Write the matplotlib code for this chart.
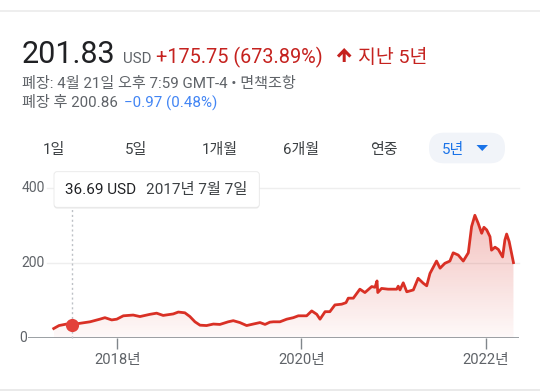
import matplotlib

matplotlib.use("Agg")
import matplotlib.dates as mdates
import matplotlib.pyplot as plt
import numpy as np
import pandas as pd
from matplotlib.colors import LinearSegmentedColormap
from matplotlib.lines import Line2D
from matplotlib.patches import FancyBboxPatch, Polygon
from matplotlib.transforms import IdentityTransform

plt.rcParams["font.family"] = ["Roboto", "Noto Sans CJK KR", "DejaVu Sans"]

W, H = 540, 392

# price history
dates = [
    "2017-04-24", "2017-05-15", "2017-06-14", "2017-07-07", "2017-08-06", "2017-09-15", "2017-10-24", "2017-11-13", "2017-12-10", "2017-12-30",
    "2018-01-25", "2018-03-05", "2018-04-01", "2018-05-11", "2018-06-06", "2018-07-02", "2018-08-11", "2018-08-31", "2018-09-26", "2018-10-16",
    "2018-11-05", "2018-11-25", "2018-12-21", "2019-01-17", "2019-02-12", "2019-03-17", "2019-04-06", "2019-05-02", "2019-05-29", "2019-06-24",
    "2019-07-21", "2019-08-10", "2019-08-29", "2019-09-12", "2019-10-08", "2019-11-04", "2019-11-30", "2019-12-20", "2020-01-22", "2020-02-11",
    "2020-03-02", "2020-03-15", "2020-04-04", "2020-04-23", "2020-05-13", "2020-06-09", "2020-06-26", "2020-07-05", "2020-07-25", "2020-08-20",
    "2020-09-09", "2020-10-06", "2020-10-19", "2020-10-27", "2020-10-30", "2020-11-14", "2020-12-10", "2021-01-13", "2021-01-19", "2021-01-26",
    "2021-02-08", "2021-02-22", "2021-03-20", "2021-04-08", "2021-04-28", "2021-05-12", "2021-05-25", "2021-06-20", "2021-07-04", "2021-07-23",
    "2021-08-12", "2021-08-25", "2021-09-14", "2021-10-04", "2021-10-24", "2021-11-06", "2021-11-19", "2021-12-02", "2021-12-16", "2021-12-25",
    "2022-01-05", "2022-01-18", "2022-01-24", "2022-02-07", "2022-02-20", "2022-03-09", "2022-03-18", "2022-03-25", "2022-04-04", "2022-04-21",
]
prices = [
    26.08, 34, 38, 36.69, 40, 44, 51, 55, 49, 51,
    60, 62, 58, 64, 67, 61, 65, 70, 68, 58,
    44, 35, 34, 38, 37, 44, 47, 42, 34, 38,
    42, 37, 43, 44, 44, 51, 55, 60, 60, 73,
    64, 51, 71, 71, 89, 91, 95, 107, 107, 131,
    122, 138, 136, 153, 122, 133, 131, 131, 139, 129,
    148, 124, 129, 160, 147, 140, 173, 206, 187, 200,
    206, 228, 222, 206, 228, 298, 328, 307, 280, 296,
    289, 271, 235, 243, 237, 217, 262, 278, 258, 201.83,
]

y_ticks = [0, 200, 400]
x_ticks = ["2018-01-01", "2020-01-01", "2022-01-01"]
x_tick_labels = ["2018년", "2020년", "2022년"]
tabs = ["1일", "5일", "1개월", "6개월", "연중", "5년"]
hover_date = "2017-07-07"
hover_price = 36.69

RED = "#d93025"
GRAY = "#5f6368"
DARK = "#202124"


def px(x, y):
    # pixel from top-left -> display coords
    return x, H - y


fig = plt.figure(figsize=(W / 100, H / 100), dpi=100)
ident = IdentityTransform()


def ftext(x, y, s, **kw):
    fig.text(*px(x, y), s, transform=ident, **kw)


# separators
for yy, c in [(11, "#ebebeb"), (389.5, "#e6e6e6")]:
    fig.add_artist(Line2D([0, W], [H - yy, H - yy], transform=ident, color=c, lw=1.2))

# header
ftext(22, 63.3, "201.83", fontsize=22, color=DARK, va="baseline")
ftext(122.5, 63.3, "USD", fontsize=10.8, color=GRAY, va="baseline")
ftext(156, 63.3, "+175.75 (673.89%)", fontsize=14.3, color="#c5221f", va="baseline")
arrow = [(344.2, 48), (351.5, 55.5), (349.3, 57.6), (345.7, 54), (345.7, 62),
         (342.7, 62), (342.7, 54), (339.1, 57.6), (336.9, 55.5)]
fig.add_artist(Polygon([px(*p) for p in arrow], closed=True, transform=ident,
                       facecolor="#c5221f", edgecolor="none"))
ftext(358, 63.3, "지난 5년", fontsize=14, color="#c5221f", va="baseline")

ftext(22.5, 88.3, "폐장: 4월 21일 오후 7:59 GMT-4 • 면책조항", fontsize=10.9, color=GRAY, va="baseline")
ftext(22.5, 107.3, "폐장 후 200.86", fontsize=10.9, color=GRAY, va="baseline")
ftext(124, 107.3, "−0.97 (0.48%)", fontsize=10.9, color="#4285f4", va="baseline")

# range tabs
fig.add_artist(FancyBboxPatch(px(429, 163.3), 76, 30.6, transform=ident,
                              boxstyle="round,pad=0,rounding_size=15",
                              facecolor="#f1f4f9", edgecolor="none"))
tab_x = [54, 136, 219.5, 301.5, 384, 453]
for label, x in zip(tabs, tab_x):
    color = "#1a73e8" if label == "5년" else "#3c4043"
    ftext(x, 154, label, fontsize=10.8, color=color, ha="center", va="baseline")
tri = [(476.5, 145), (488, 145), (482.25, 151)]
fig.add_artist(Polygon([px(*p) for p in tri], closed=True, transform=ident,
                       facecolor="#1a73e8", edgecolor="none"))

# chart
ax = fig.add_axes([28 / W, 1 - 338.3 / H, 491 / W, 150 / H])
ax.set_facecolor("none")
for s in ax.spines.values():
    s.set_visible(False)

d = pd.to_datetime(dates)
xn = mdates.date2num(d)

verts = [(xn[0], 0)] + list(zip(xn, prices)) + [(xn[-1], 0)]
clip = Polygon(verts, closed=True, transform=ax.transData, facecolor="none", edgecolor="none")
ax.add_patch(clip)
cmap = LinearSegmentedColormap.from_list(
    "fade", [(0.85, 0.19, 0.15, 0.03), (0.85, 0.19, 0.15, 0.30)])
grad = np.linspace(0, 1, 256).reshape(-1, 1)
img = ax.imshow(grad, extent=[xn[0], xn[-1], 0, max(prices)], origin="lower",
                aspect="auto", cmap=cmap, zorder=1)
img.set_clip_path(clip)

for yv in y_ticks[1:]:
    ax.axhline(yv, xmin=19 / 491, color="#eeeeee", lw=1, zorder=0, clip_on=False)
ax.axhline(0, color="#80868b", lw=1.1, zorder=2)

ax.plot(d, prices, color=RED, lw=2.0, solid_joinstyle="round", zorder=3)

hd = pd.Timestamp(hover_date)
ax.axvline(hd, ymin=0, ymax=131 / 150, color="#bdc1c6", lw=1, ls=(0, (1.5, 2)), zorder=2, clip_on=False)
ax.plot([hd], [hover_price], "o", ms=9.5, color="#e3413a", mec="none", zorder=4)

ax.set_xlim(pd.Timestamp("2017-01-12"), pd.Timestamp("2022-05-13"))
ax.set_ylim(0, 400)
ax.set_yticks([])
ax.set_xticks(pd.to_datetime(x_ticks))
ax.set_xticklabels(x_tick_labels)
ax.tick_params(axis="x", length=7.7, width=1, color="#80868b", pad=3,
               labelsize=10.6, labelcolor=GRAY)

ytr = ax.get_yaxis_transform()
for yv in y_ticks:
    xpos = -0.002 if yv == 0 else 17 / 491
    ax.text(xpos, yv, str(yv), transform=ytr, ha="right", va="center",
            fontsize=10, color=GRAY, clip_on=False)

# hover tooltip
shadow = FancyBboxPatch(px(54, 208.5), 205.3, 35.6, transform=ident,
                        boxstyle="round,pad=0,rounding_size=3",
                        facecolor="#000000", alpha=0.10, edgecolor="none", zorder=5)
fig.add_artist(shadow)
box = FancyBboxPatch(px(54, 207.3), 205.3, 35.6, transform=ident,
                     boxstyle="round,pad=0,rounding_size=3",
                     facecolor="white", edgecolor="#e8e8e8", lw=0.6, zorder=6)
fig.add_artist(box)
fig.text(*px(65, 194.3), f"{hover_price:.2f} USD", transform=ident, fontsize=11,
         color=DARK, va="baseline", zorder=7)
fig.text(*px(146, 194.3), "2017년 7월 7일", transform=ident, fontsize=11,
         color="#3c4043", va="baseline", zorder=7)

fig.savefig("out.png", dpi=100, facecolor="white")
